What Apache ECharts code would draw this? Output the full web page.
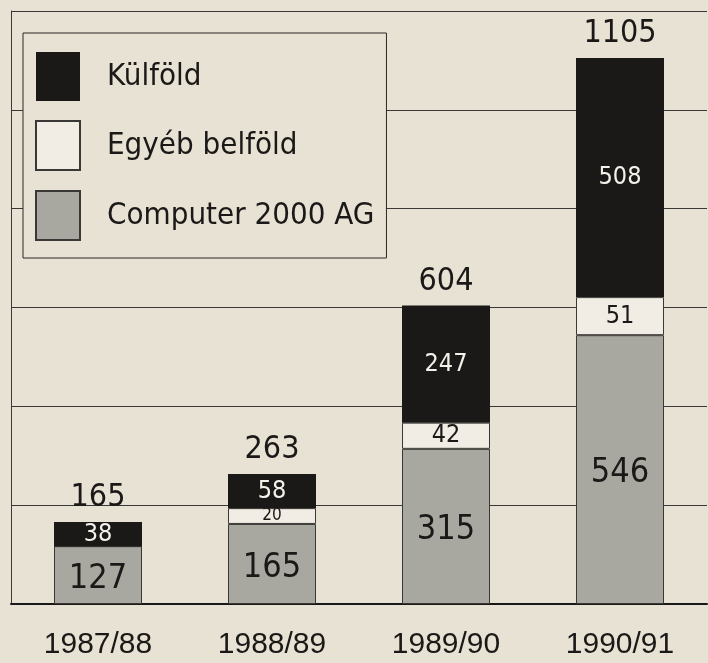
<!DOCTYPE html>
<html>
<head>
    <meta charset="UTF-8">
    <title>Computer 2000 forgalom</title>
    <script src="https://cdn.jsdelivr.net/npm/echarts@6/dist/echarts.min.js"></script>
    <style>
        html, body { margin: 0; padding: 0; background: #e8e2d4; }
        #chart { width: 708px; height: 663px; }
    </style>
</head>
<body>
<div id="chart"></div>
<script>
    // evek
    var years = ['1987/88', '1988/89', '1989/90', '1990/91'];

    // szegmensek magassaga a kepről leolvasva
    var computerData = [117, 162, 314, 544];
    var egyebData = [0, 32, 53, 77];
    var kulfoldData = [49, 69, 237, 484];

    // nyomtatott feliratok
    var computerLabels = ['127', '165', '315', '546'];
    var egyebLabels = ['', '20', '42', '51'];
    var kulfoldLabels = ['38', '58', '247', '508'];
    var totalLabels = ['165', '263', '604', '1105'];
    var totalBase = [0, 0, 0, 0];

    var yTicks = [0, 200, 400, 600, 800, 1000, 1200];

    var narrow = "'DejaVu Sans Condensed', 'Liberation Sans Narrow', sans-serif";
    var ink = '#1b1917';

    var option = {
        backgroundColor: '#e8e2d4',
        animation: false,
        legend: {
            orient: 'vertical',
            left: 23,
            top: 33,
            data: ['Külföld', 'Egyéb belföld', 'Computer 2000 AG'],
            icon: 'rect',
            itemWidth: 44,
            itemHeight: 49,
            itemGap: 19,
            padding: [19, 12, 17, 12],
            backgroundColor: '#e8e2d4',
            borderColor: '#2a2826',
            borderWidth: 1,
            selectedMode: false,
            textStyle: {
                fontFamily: narrow,
                fontSize: 31,
                color: ink,
                padding: [0, 0, 0, 22]
            }
        },
        grid: {
            left: 11,
            right: 1,
            top: 11,
            bottom: 59
        },
        xAxis: {
            type: 'category',
            data: years,
            axisTick: { show: false },
            axisLine: { lineStyle: { color: ink, width: 2 } },
            axisLabel: {
                fontFamily: "'Liberation Sans', Arial, sans-serif",
                fontSize: 30,
                color: ink,
                margin: 26
            }
        },
        yAxis: {
            type: 'value',
            min: yTicks[0],
            max: yTicks[yTicks.length - 1],
            interval: yTicks[1] - yTicks[0],
            axisLabel: { show: false },
            axisTick: { show: false },
            axisLine: { show: true, lineStyle: { color: '#3a3836', width: 1 } },
            splitLine: { lineStyle: { color: '#3a3836', width: 1.2 } }
        },
        series: [
            {
                name: 'Computer 2000 AG',
                type: 'bar',
                stack: 'ossz',
                barWidth: 88,
                data: computerData,
                itemStyle: { color: '#a8a7a0', borderColor: '#3a3836', borderWidth: 1 },
                label: {
                    show: true,
                    position: 'inside',
                    offset: [0, 4],
                    fontFamily: narrow,
                    fontSize: 34,
                    color: ink,
                    formatter: function (p) { return computerLabels[p.dataIndex]; }
                }
            },
            {
                name: 'Egyéb belföld',
                type: 'bar',
                stack: 'ossz',
                barWidth: 88,
                data: egyebData.map(function (v, i) {
                    return i === 1 ? { value: v, label: { fontSize: 17 } } : v;
                }),
                itemStyle: { color: '#f1ede4', borderColor: '#3a3836', borderWidth: 1 },
                label: {
                    show: true,
                    position: 'inside',
                    fontFamily: narrow,
                    fontSize: 25,
                    color: ink,
                    formatter: function (p) { return egyebLabels[p.dataIndex]; }
                }
            },
            {
                name: 'Külföld',
                type: 'bar',
                stack: 'ossz',
                barWidth: 88,
                data: kulfoldData,
                itemStyle: { color: ink },
                label: {
                    show: true,
                    position: 'inside',
                    fontFamily: narrow,
                    fontSize: 25,
                    color: '#f4f1ea',
                    formatter: function (p) { return kulfoldLabels[p.dataIndex]; }
                }
            },
            {
                name: 'total',
                type: 'bar',
                stack: 'ossz',
                barWidth: 88,
                data: totalBase,
                itemStyle: { color: 'rgba(0,0,0,0)' },
                label: {
                    show: true,
                    position: 'top',
                    distance: 8,
                    fontFamily: narrow,
                    fontSize: 32,
                    color: ink,
                    formatter: function (p) { return totalLabels[p.dataIndex]; }
                }
            }
        ]
    };

    var myChart = echarts.init(document.getElementById('chart'), null, { renderer: 'canvas' });
    myChart.setOption(option);
</script>
</body>
</html>
